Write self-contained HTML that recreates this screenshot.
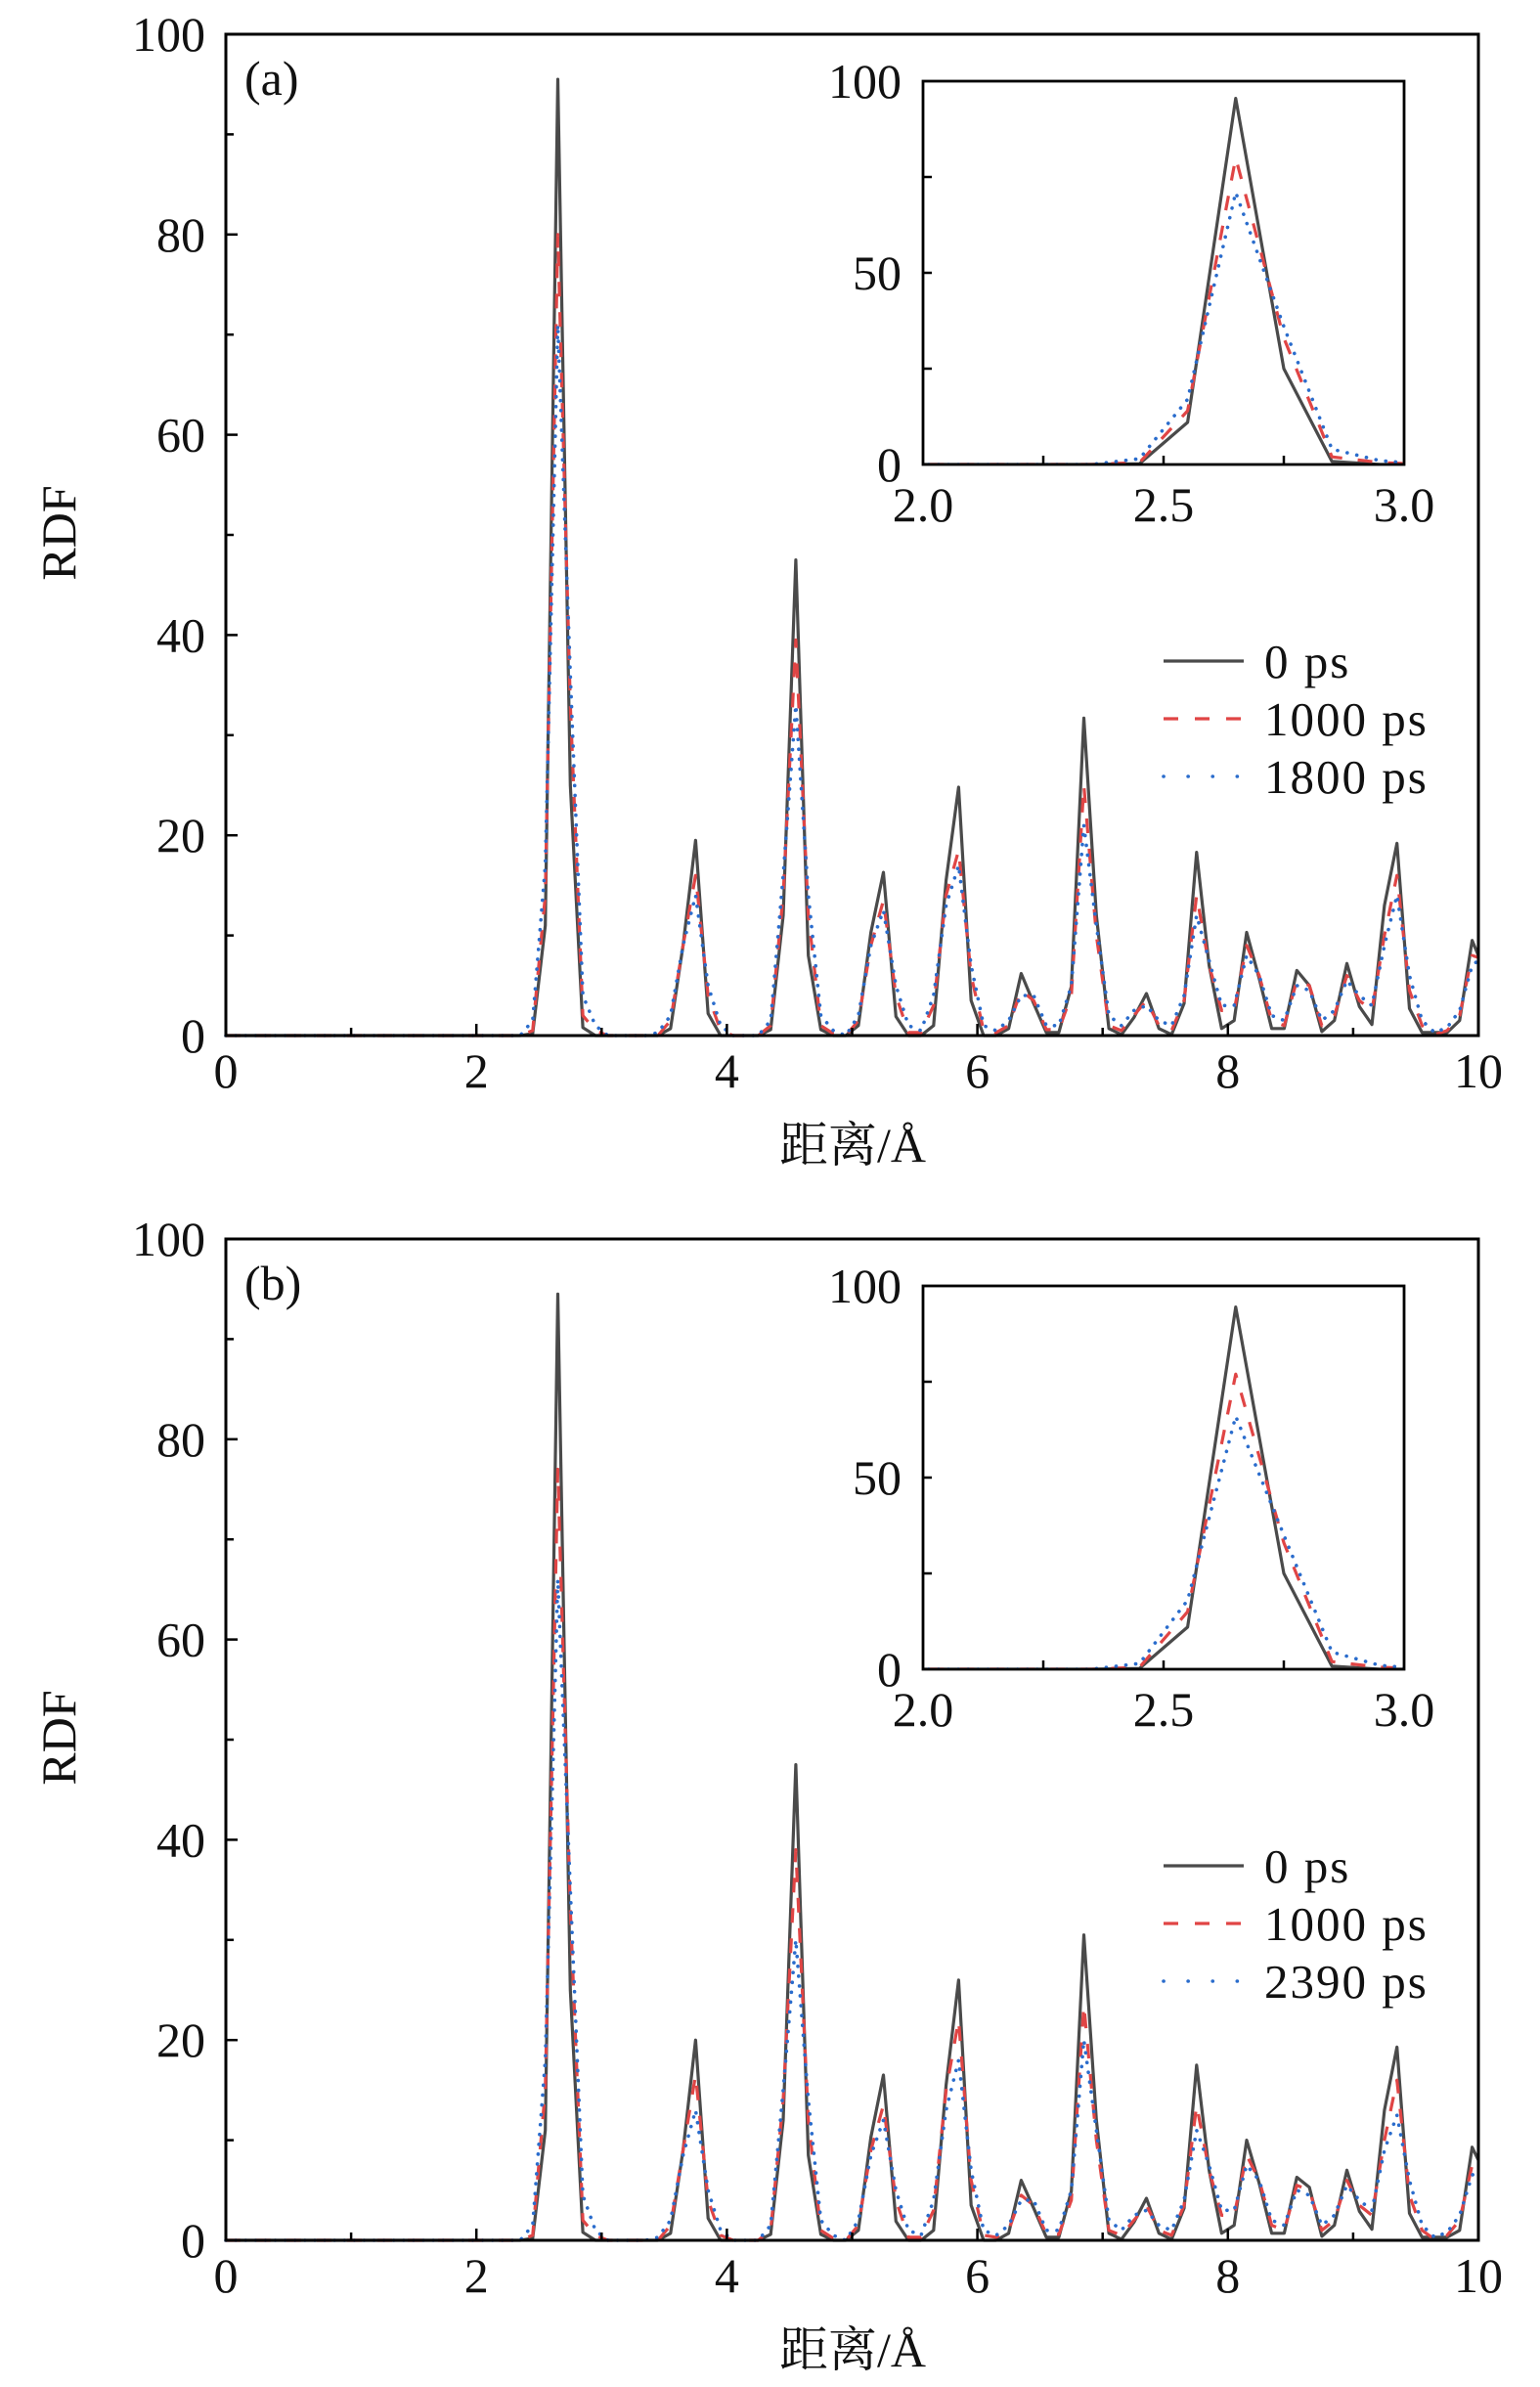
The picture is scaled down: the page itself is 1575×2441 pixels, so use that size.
<!DOCTYPE html>
<html><head><meta charset="utf-8">
<style>
html,body{margin:0;padding:0;background:#fff;}
svg{display:block;}
text{font-family:"Liberation Serif","Noto Serif CJK SC",serif;fill:#111;}
</style></head>
<body>
<svg id="chart" xmlns="http://www.w3.org/2000/svg" width="1575" height="2441" viewBox="0 0 1575 2441"></svg>
<script>
// x grid of distances (Å)
const xs = [];
for (let i = 0; i < 100; i++) xs.push(+(0.05 + 0.1 * i).toFixed(2));
xs.push(10.0);
// Panel (a) values
const a0 = [0,0,0,0,0,0,0,0,0,0, 0,0,0,0,0,0,0,0,0,0, 0,0,0,0,0.2,11,95.5,25,0.8,0, 0,0,0,0,0,0.7,9,19.5,2.2,0, 0,0,0,0.6,12,47.5,8,0.6,0,0, 1,10.3,16.3,1.9,0,0,1,15.5,24.8,3.5, 0,0,0.7,6.2,3.2,0.3,0.3,4.9,31.7,12, 0.7,0.1,1.8,4.2,0.7,0.1,3.2,18.3,7,0.7, 1.5,10.3,5.7,0.7,0.7,6.5,5,0.4,1.5,7.2, 2.9,1.1,13,19.2,2.7,0.3,0.3,0.3,1.5,9.5, 8];
const a1 = [0,0,0,0,0,0,0,0,0,0, 0,0,0,0,0,0,0,0,0,0, 0,0,0,0,0.5,14,80,33,2,0.5, 0,0,0,0,0,1.5,9,16,4,0.5, 0,0,0,1,14,39.5,12,1,0.2,0, 1.5,9,13.5,4,0.3,0.3,3,14,18.5,6, 0.5,0.3,1,4.5,3.5,0.6,0.6,4,25,10, 1,0.5,2,3.5,1,0.5,3.5,14,7,2.5, 2.5,9,6,1.5,1,5.5,5,1,2,6, 3.5,2.5,10,16,4.5,1,0.1,0.5,2,8, 7.8];
const a2 = [0,0,0,0,0,0,0,0,0,0, 0,0,0,0,0,0,0,0,0,0, 0,0,0,0,1.5,17,71,36,4,1, 0,0,0,0,0.3,2,9,14,5,1, 0,0,0,1.5,16,33,14,2,0.5,0, 2,9,12.5,5,1,0.5,4,13,17,7, 1,0.5,1.5,4,4,1,1,5,21,11, 2,1,2.5,3,1.5,1,4,12,7.5,3, 3,8,6,2,1.5,5,4.5,1.5,2.5,5.5, 4,3,9,14,6,1.5,0.3,0.8,2.5,7, 7.5];
// Panel (b) values
const b0 = [0,0,0,0,0,0,0,0,0,0, 0,0,0,0,0,0,0,0,0,0, 0,0,0,0,0.2,11,94.5,25,0.8,0, 0,0,0,0,0,0.7,9,20,2.2,0, 0,0,0,0.6,12,47.5,8.5,0.6,0,0, 1,10.3,16.5,1.9,0,0,1,15.5,26,3.5, 0,0,0.7,6,3.2,0.3,0.3,4.9,30.5,12, 0.7,0.1,1.8,4.2,0.7,0.1,3.2,17.5,7,0.7, 1.5,10,5.7,0.7,0.7,6.3,5.3,0.4,1.5,7, 2.9,1.1,13,19.3,2.7,0.3,0.3,0.3,1,9.3, 8];
const b1 = [0,0,0,0,0,0,0,0,0,0, 0,0,0,0,0,0,0,0,0,0, 0,0,0,0,0.5,15,77,33,2,0.5, 0,0,0,0,0,1.5,9,16.5,4,0.5, 0,0,0,1,14,39,12,1,0.2,0, 1.5,9,13.5,4,0.3,0.3,3,15,22,6, 0.5,0.3,1,4.5,3.5,0.6,0.6,4,23.5,10, 1,0.5,2,3.5,1,0.5,3.5,13.5,7,2.5, 2.5,8.5,6,1.5,1,5.5,5,1,2,6, 3.5,2.5,10,16,4.5,1,0.1,0.5,2,7.5, 7.2];
const b2 = [0,0,0,0,0,0,0,0,0,0, 0,0,0,0,0,0,0,0,0,0, 0,0,0,0,1.5,18,66,35,4.5,1, 0,0,0,0,0.3,2,8.5,13,5,1, 0,0,0,1.5,15,30,14,2,0.5,0, 2,8.5,12,5,1,0.5,4,13,18,7, 1,0.5,1.5,4,4,1,1,5,20,11, 2,1,2.5,3,1.5,1,4,11,7.5,3, 3,7.5,6,2,1.5,5,4.5,1.5,2.5,5.5, 4,3,9,12.5,6,1.5,0.3,0.8,2.5,6.5, 7];
const xTicks = [0,2,4,6,8,10];
const yTicks = [0,20,40,60,80,100];
const inXTicks = ["2.0","2.5","3.0"];
const inYTicks = [0,50,100];
const legendA = ["0 ps","1000 ps","1800 ps"];
const legendB = ["0 ps","1000 ps","2390 ps"];

const NS = "http://www.w3.org/2000/svg";
const svg = document.getElementById("chart");
function mk(tag, attrs, parent) {
  const e = document.createElementNS(NS, tag);
  for (const k in attrs) e.setAttribute(k, attrs[k]);
  (parent || svg).appendChild(e);
  return e;
}
const styles = [
  {stroke:"#4a4a4a", w:3.2, dash:null},
  {stroke:"#e04545", w:3.2, dash:"15 16"},
  {stroke:"#2a6ccc", w:3.6, dash:"0.1 10", cap:"round"}
];
const FS = 50;

function panel(off, label, series, legend, tag) {
  const g = mk("g", {});
  
  
  const L = 231, R = 1512, T = 35 + off, B = 1059 + off;
  const sx = v => L + (v / 10) * (R - L);
  const sy = v => B - (v / 100) * (B - T);
  series.forEach((arr, si) => {
    const st = styles[si];
    const d = arr.map((v, i) => (i ? "L" : "M") + sx(xs[i]).toFixed(1) + " " + sy(v).toFixed(1)).join(" ");
    const p = mk("path", {d: "M" + L + " " + B + " " + d.replace(/^M/, "L"), fill:"none", stroke:st.stroke, "stroke-width":st.w, "stroke-linejoin":"round"}, g);
    if (st.dash) p.setAttribute("stroke-dasharray", st.dash);
    if (st.cap) p.setAttribute("stroke-linecap", st.cap);
    
    
  });
  const fr = mk("rect", {x:L, y:T, width:R-L, height:B-T, fill:"none", stroke:"#000", "stroke-width":3}, g);
  
  
  for (let v = 0; v <= 10; v++) {
    const big = v % 2 === 0;
    mk("line", {x1:sx(v), x2:sx(v), y1:B, y2:B - (big ? 12 : 8), stroke:"#000", "stroke-width":2.5}, g);
  }
  xTicks.forEach(v => {
    const t = mk("text", {x:sx(v), y:B + 53, "font-size":FS, "text-anchor":"middle"}, g);
    t.textContent = v;
    
    
  });
  for (let v = 0; v <= 100; v += 10) {
    const big = v % 20 === 0;
    mk("line", {x1:L, x2:L + (big ? 12 : 8), y1:sy(v), y2:sy(v), stroke:"#000", "stroke-width":2.5}, g);
  }
  yTicks.forEach(v => {
    const t = mk("text", {x:210, y:sy(v) + 17, "font-size":FS, "text-anchor":"end"}, g);
    t.textContent = v;
    
    
  });
  const xl = mk("text", {x:872, y:1188 + off, "font-size":FS, "text-anchor":"middle"}, g);
  xl.textContent = "距离/Å";
  
  
  const yl = mk("text", {x:0, y:0, "font-size":FS, "text-anchor":"middle", transform:"translate(77," + (545 + off) + ") rotate(-90)"}, g);
  yl.textContent = "RDF";
  
  
  const pl = mk("text", {x:250, y:97 + off, "font-size":FS}, g);
  pl.textContent = label;
  
  
  legend.forEach((name, i) => {
    const y = 676 + i * 59 + off;
    const st = styles[i];
    const ln = mk("line", {x1:1190, x2:1272, y1:y, y2:y, stroke:st.stroke, "stroke-width":st.w}, g);
    if (st.dash) ln.setAttribute("stroke-dasharray", i === 1 ? "15 17" : "0.1 25");
    if (st.cap) ln.setAttribute("stroke-linecap", st.cap);
    
    
    const t = mk("text", {x:1293, y:y + 17, "font-size":49, "letter-spacing":"2"}, g);
    t.textContent = name;
    
    
  });
  // inset
  const IL = 944, IR = 1436, IT = 83 + off, IB = 475 + off;
  const ix = v => IL + (v - 2) * (IR - IL);
  const iy = v => IB - (v / 100) * (IB - IT);
  const ig = mk("g", {}, g);
  
  
  mk("rect", {x:IL, y:IT, width:IR-IL, height:IB-IT, fill:"#fff"}, ig);
  const cp = mk("clipPath", {id:"clip" + tag}, ig);
  mk("rect", {x:IL, y:IT, width:IR-IL, height:IB-IT}, cp);
  series.forEach((arr, si) => {
    const st = styles[si];
    const pts = [];
    arr.forEach((v, i) => { if (xs[i] >= 1.95 && xs[i] <= 3.05) pts.push(ix(xs[i]).toFixed(1) + " " + iy(v).toFixed(1)); });
    const p = mk("path", {d:"M" + pts.join(" L"), fill:"none", stroke:st.stroke, "stroke-width":st.w, "stroke-linejoin":"round", "clip-path":"url(#clip" + tag + ")"}, ig);
    if (st.dash) p.setAttribute("stroke-dasharray", st.dash);
    if (st.cap) p.setAttribute("stroke-linecap", st.cap);
    
    
  });
  mk("rect", {x:IL, y:IT, width:IR-IL, height:IB-IT, fill:"none", stroke:"#000", "stroke-width":2.8}, ig);
  [2.25, 2.5, 2.75].forEach(v => mk("line", {x1:ix(v), x2:ix(v), y1:IB, y2:IB - 9, stroke:"#000", "stroke-width":2.5}, ig));
  [25, 50, 75].forEach(v => mk("line", {x1:IL, x2:IL + 9, y1:iy(v), y2:iy(v), stroke:"#000", "stroke-width":2.5}, ig));
  inXTicks.forEach(s => {
    const t = mk("text", {x:ix(parseFloat(s)), y:IB + 58, "font-size":FS, "text-anchor":"middle"}, ig);
    t.textContent = s;
    
    
  });
  inYTicks.forEach(v => {
    const t = mk("text", {x:922, y:iy(v) + 17, "font-size":FS, "text-anchor":"end"}, ig);
    t.textContent = v;
    
    
  });
}
panel(0, "(a)", [a0, a1, a2], legendA, "a");
panel(1232, "(b)", [b0, b1, b2], legendB, "b");
</script>
</body></html>
